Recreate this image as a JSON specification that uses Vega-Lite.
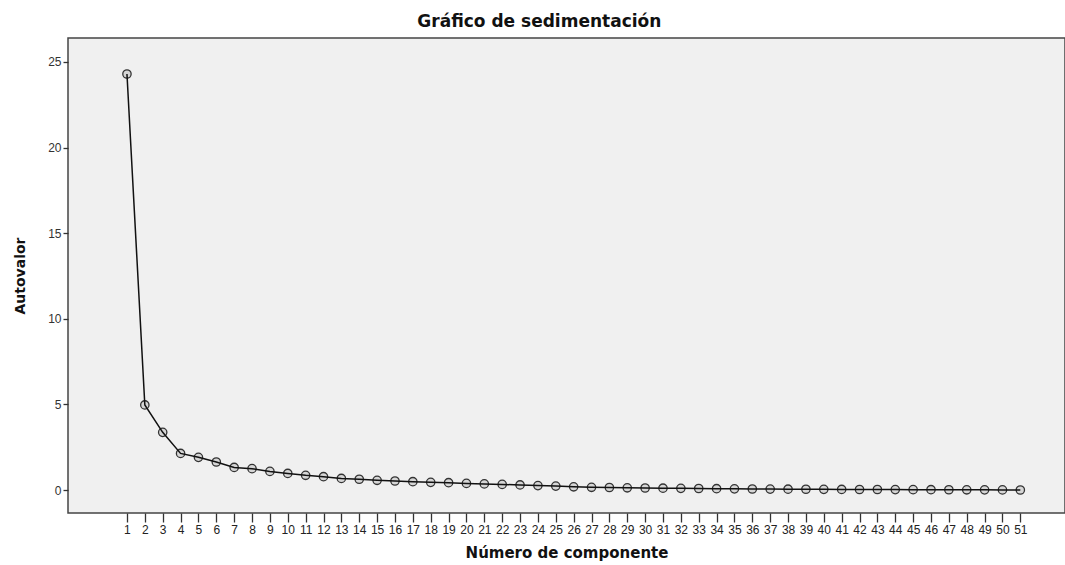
{
  "$schema": "https://vega.github.io/schema/vega-lite/v6.json",
  "autosize": "none",
  "width": 997,
  "height": 475,
  "padding": {"left": 68, "top": 38, "right": 0, "bottom": 52},
  "background": "#ffffff",
  "title": {
    "text": "Gráfico de sedimentación",
    "font": "DejaVu Sans",
    "fontSize": 17,
    "fontWeight": "bold",
    "color": "#111111",
    "anchor": "middle",
    "frame": "bounds",
    "offset": 7
  },
  "config": {
    "view": {"fill": "#f0f0f0", "stroke": "#444444", "strokeWidth": 1.5},
    "axis": {"grid": false, "domain": false, "labelFont": "Liberation Sans", "titleFont": "DejaVu Sans"}
  },
  "data": {
    "values": [
      {"componente": 1, "autovalor": 24.3},
      {"componente": 2, "autovalor": 4.97},
      {"componente": 3, "autovalor": 3.37},
      {"componente": 4, "autovalor": 2.14},
      {"componente": 5, "autovalor": 1.91},
      {"componente": 6, "autovalor": 1.64},
      {"componente": 7, "autovalor": 1.32},
      {"componente": 8, "autovalor": 1.25},
      {"componente": 9, "autovalor": 1.09},
      {"componente": 10, "autovalor": 0.97},
      {"componente": 11, "autovalor": 0.86},
      {"componente": 12, "autovalor": 0.78},
      {"componente": 13, "autovalor": 0.68},
      {"componente": 14, "autovalor": 0.63},
      {"componente": 15, "autovalor": 0.57},
      {"componente": 16, "autovalor": 0.53},
      {"componente": 17, "autovalor": 0.49},
      {"componente": 18, "autovalor": 0.45},
      {"componente": 19, "autovalor": 0.43},
      {"componente": 20, "autovalor": 0.39},
      {"componente": 21, "autovalor": 0.36},
      {"componente": 22, "autovalor": 0.33},
      {"componente": 23, "autovalor": 0.30},
      {"componente": 24, "autovalor": 0.26},
      {"componente": 25, "autovalor": 0.23},
      {"componente": 26, "autovalor": 0.19},
      {"componente": 27, "autovalor": 0.16},
      {"componente": 28, "autovalor": 0.15},
      {"componente": 29, "autovalor": 0.13},
      {"componente": 30, "autovalor": 0.12},
      {"componente": 31, "autovalor": 0.11},
      {"componente": 32, "autovalor": 0.10},
      {"componente": 33, "autovalor": 0.09},
      {"componente": 34, "autovalor": 0.08},
      {"componente": 35, "autovalor": 0.07},
      {"componente": 36, "autovalor": 0.06},
      {"componente": 37, "autovalor": 0.055},
      {"componente": 38, "autovalor": 0.05},
      {"componente": 39, "autovalor": 0.045},
      {"componente": 40, "autovalor": 0.04},
      {"componente": 41, "autovalor": 0.037},
      {"componente": 42, "autovalor": 0.034},
      {"componente": 43, "autovalor": 0.03},
      {"componente": 44, "autovalor": 0.027},
      {"componente": 45, "autovalor": 0.024},
      {"componente": 46, "autovalor": 0.021},
      {"componente": 47, "autovalor": 0.018},
      {"componente": 48, "autovalor": 0.015},
      {"componente": 49, "autovalor": 0.012},
      {"componente": 50, "autovalor": 0.009},
      {"componente": 51, "autovalor": 0.005}
    ]
  },
  "encoding": {
    "x": {
      "field": "componente",
      "type": "quantitative",
      "scale": {"domain": [-2.3, 53.5], "nice": false, "zero": false},
      "axis": {
        "title": "Número de componente",
        "titleFontSize": 15,
        "titleFontWeight": "bold",
        "titleColor": "#111111",
        "titlePadding": 10,
        "values": [1,2,3,4,5,6,7,8,9,10,11,12,13,14,15,16,17,18,19,20,21,22,23,24,25,26,27,28,29,30,31,32,33,34,35,36,37,38,39,40,41,42,43,44,45,46,47,48,49,50,51],
        "labelOverlap": false,
        "labelFlush": false,
        "labelFontSize": 12,
        "labelColor": "#222222",
        "labelPadding": 2,
        "tickSize": 9,
        "tickColor": "#333333",
        "tickWidth": 1.3
      }
    },
    "y": {
      "field": "autovalor",
      "type": "quantitative",
      "scale": {"domain": [-1.34, 26.4], "nice": false, "zero": false},
      "axis": {
        "title": "Autovalor",
        "titleFontSize": 14,
        "titleFontWeight": "bold",
        "titleColor": "#111111",
        "titlePadding": 20,
        "values": [0, 5, 10, 15, 20, 25],
        "labelFontSize": 12,
        "labelColor": "#333333",
        "labelPadding": 2,
        "tickSize": 5,
        "tickColor": "#333333",
        "tickWidth": 1.3
      }
    }
  },
  "layer": [
    {
      "mark": {"type": "point", "shape": "circle", "size": 70, "filled": false, "fill": "#cfcfcf", "fillOpacity": 0.8, "stroke": "#333333", "strokeWidth": 1.3}
    },
    {
      "mark": {"type": "line", "color": "#111111", "strokeWidth": 1.5}
    }
  ]
}
